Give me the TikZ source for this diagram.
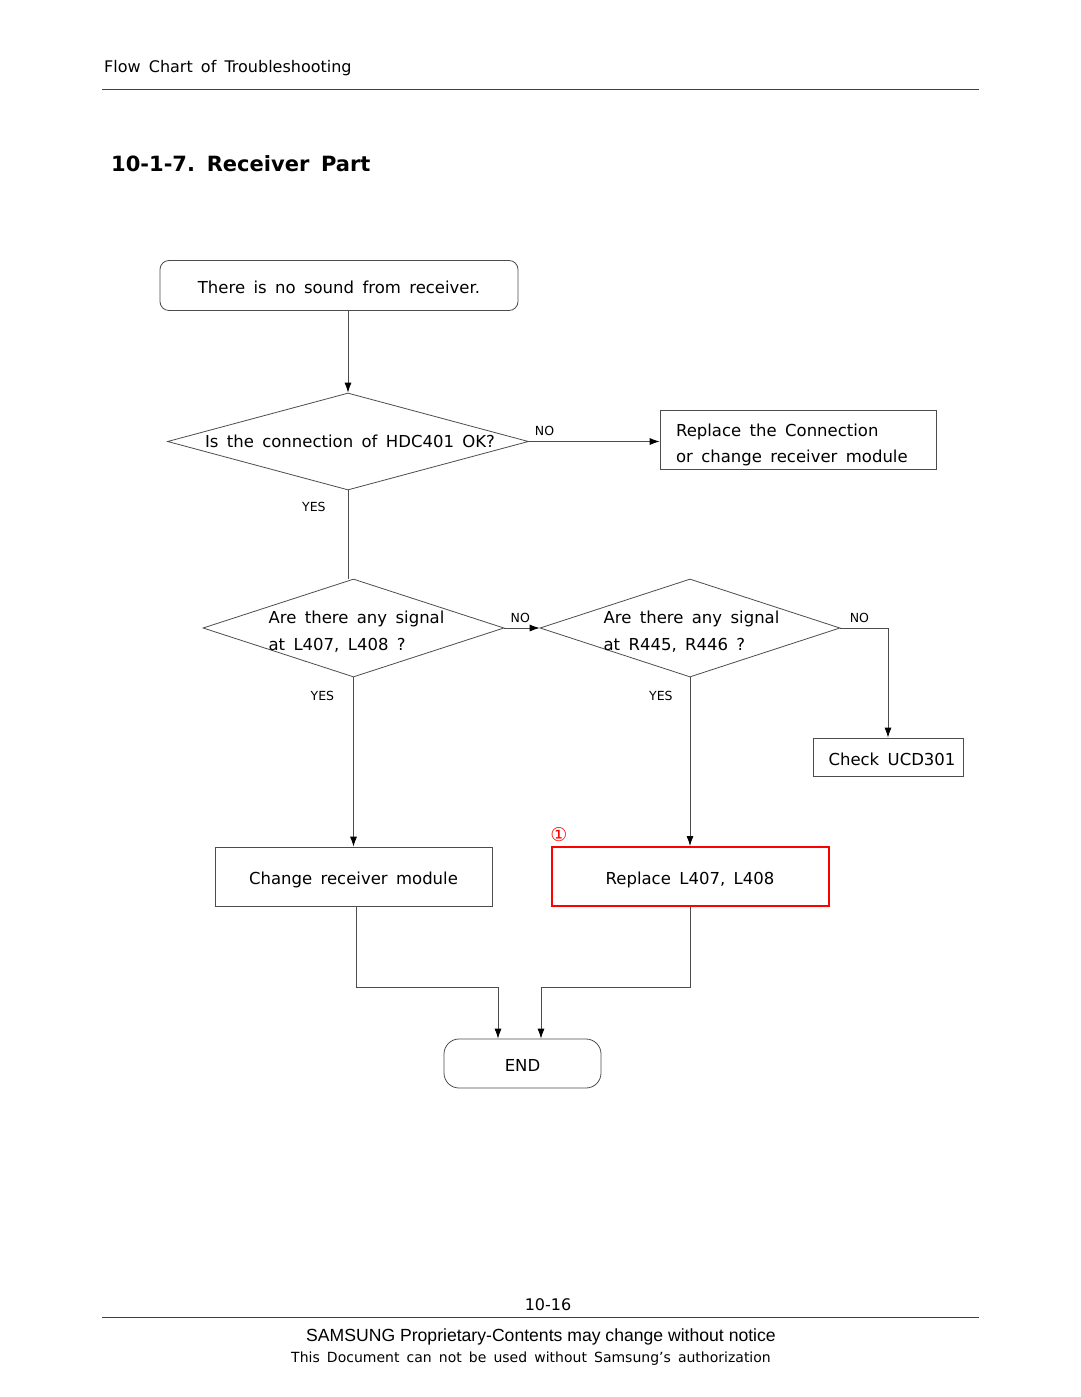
\documentclass[tikz,border=0pt]{standalone}
\usepackage{fontspec}
\setmainfont{DejaVu Sans}[WordSpace=1.6]
\newfontfamily\arialfont{Liberation Sans}
\usetikzlibrary{arrows.meta,calc,positioning,shapes.geometric}

\newcommand\bodyfont{\fontsize{16.5}{26.5}\selectfont}
\newcommand\lblfont{\fontsize{12.5}{15}\selectfont}
\newcommand\twolines[3]{\raisebox{0pt}[#1][14pt]{\begin{tabular}{@{}l@{}}#2\\#3\end{tabular}}}

\begin{document}
\begin{tikzpicture}[x=1pt,y=-1pt,
    line/.style={draw=black!70, line width=0.8pt},
    flow/.style={line, -{Latex[length=10pt,width=7pt,color=black]}},
    box/.style={line, rectangle, inner sep=0pt, font=\bodyfont, text height=16pt, text depth=0pt},
    decision/.style={line, diamond, inner sep=0pt, font=\bodyfont},
    lbl/.style={font=\lblfont, inner sep=1pt}]
        \useasboundingbox (0,0) rectangle (1080,1397);

        % page header
        \node[anchor=west, inner sep=0pt, font=\fontsize{16}{20}\selectfont] (hdr) at (104,68) {Flow Chart of Troubleshooting};
        \coordinate (hdrL) at (102,89);
        \coordinate (hdrR) at (979,89);
        \draw[black!75, line width=0.9pt] (hdrL) -- (hdrR);
        \node[anchor=west, inner sep=0pt, font=\bfseries\fontsize{21}{24}\selectfont] (ttl) at (111,164) {10-1-7.\ Receiver Part};

        % flow chart
        \node[box, rounded corners=9pt, minimum width=358, minimum height=50] (start) at (339,285.5) {There is no sound from receiver.};
        \node[decision, minimum width=361, minimum height=97] (hdc) at (348,441.5) {\makebox[0pt]{\hspace{4pt}Is the connection of HDC401 OK?}};
        \node[line, rectangle, inner sep=0pt, font=\bodyfont, minimum width=276, minimum height=59] (fixcon) at (798,439.5) {\makebox[244pt][l]{\raisebox{0pt}[30pt][12pt]{\begin{tabular}{@{}l@{}}Replace the Connection\\or change receiver module\end{tabular}}}};

        \node[decision, minimum width=301, minimum height=98] (sigL) at (353.5,628) {\makebox[0pt]{\hspace{6pt}\twolines{30pt}{Are there any signal}{at L407, L408 ?}}};
        \node[decision, minimum width=300, minimum height=98] (sigR) at (690,628) {\makebox[0pt]{\hspace{3pt}\twolines{30pt}{Are there any signal}{at R445, R446 ?}}};
        \node[box, minimum width=150, minimum height=38] (ucd) at (888,757) {\hspace{8pt}Check UCD301};

        \node[box, minimum width=277, minimum height=59] (chg) at (353.5,876.5) {Change receiver module};
        \node[box, draw=red, line width=2pt, minimum width=277, minimum height=59] (repl) at (690,876.5) {Replace L407, L408};
        \node[red, font=\fontsize{19}{22}\selectfont, inner sep=0pt] (mark) at (559,835) {①};

        \node[box, rounded corners=15pt, minimum width=157, minimum height=49] (endn) at (522.5,1063.5) {END};
        \coordinate (joinL) at (498,987);
        \coordinate (joinR) at (541,987);

        \draw[flow] (start.south -| hdc.north) -- (hdc.north);
        \draw[flow] (hdc.east) -- node[lbl, above=4pt, pos=0.12]{NO} (hdc.east -| fixcon.west);
        \draw[line] (hdc.south) -- node[lbl, left=21pt, pos=0.19]{YES} (hdc.south |- sigL.north);
        \draw[flow] (sigL.east) -- node[lbl, above=4pt, pos=0.45]{NO} (sigR.west);
        \draw[flow] (sigR.east) -| node[lbl, above=4pt, pos=0.2]{NO} (ucd.north);
        \draw[flow] (sigL.south) -- node[lbl, left=18pt, pos=0.11]{YES} (chg.north);
        \draw[flow] (sigR.south) -- node[lbl, left=16pt, pos=0.11]{YES} (repl.north);
        \draw[flow] ([xshift=3pt]chg.south) |- (joinL) -- (joinL |- endn.north);
        \draw[flow] (repl.south) |- (joinR) -- (joinR |- endn.north);

        % page footer
        \node[font=\fontsize{16}{19}\selectfont] (pgno) at (548,1305) {10-16};
        \coordinate (ftrL) at (102,1317);
        \coordinate (ftrR) at (979,1317);
        \draw[black!75, line width=0.9pt] (ftrL) -- (ftrR);
        \node[font=\arialfont\fontsize{17.6}{20}\selectfont] (prop) at (541,1337) {SAMSUNG Proprietary-Contents may change without notice};
        \node[font=\fontsize{14}{16}\selectfont] (auth) at (531,1359) {This Document can not be used without Samsung's authorization};
\end{tikzpicture}
\end{document}
